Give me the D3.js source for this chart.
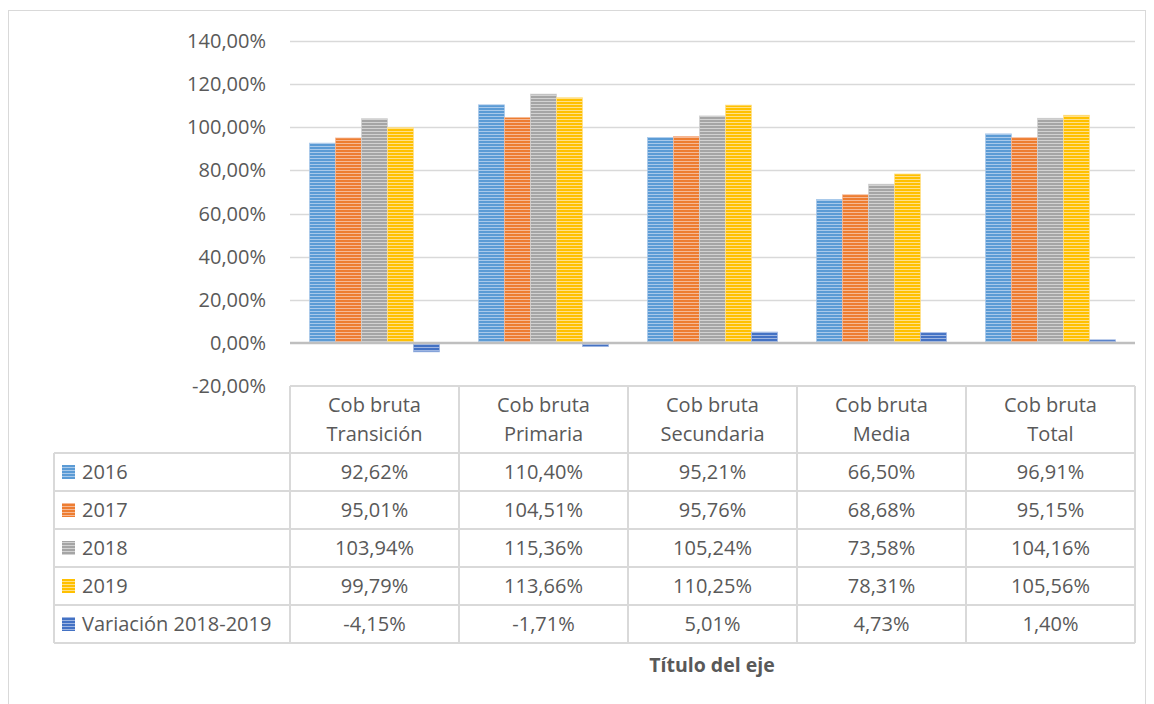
<!DOCTYPE html>
<html><head><meta charset="utf-8">
<script src="https://cdn.jsdelivr.net/npm/d3@7"></script>
<style>body{margin:0;background:#fff}svg{display:block}</style>
</head><body>
<svg id="c" width="1154" height="704"></svg>
<script>
const categories = ["Cob bruta Transición","Cob bruta Primaria","Cob bruta Secundaria","Cob bruta Media","Cob bruta Total"];
const series = ["2016","2017","2018","2019","Variación 2018-2019"];
const v2016 = [92.62,110.40,95.21,66.50,96.91];
const v2017 = [95.01,104.51,95.76,68.68,95.15];
const v2018 = [103.94,115.36,105.24,73.58,104.16];
const v2019 = [99.79,113.66,110.25,78.31,105.56];
const vVar = [-4.15,-1.71,5.01,4.73,1.40];
const yTicks = [-20,0,20,40,60,80,100,120,140];
const colors = ["#5B9BD5","#ED7D31","#A5A5A5","#FFC000","#4472C4"];
const lights = ["#a9c9ea","#f6b995","#d2d2d2","#ffe08a","#9fb6e2"];
const values = [v2016,v2017,v2018,v2019,vVar];

const fmt = d => d3.format(".2f")(d).replace(".",",").replace("\u2212","-")+"%";

const svg = d3.select("#c");
const font = "'Open Sans', sans-serif";
const fs = 20, tc = "#595959", lc = "#d9d9d9";

svg.append("rect").attr("x",8.5).attr("y",10.5).attr("width",1137).attr("height",700)
  .attr("fill","none").attr("stroke",lc);

const defs = svg.append("defs");
colors.forEach((c,i)=>{
  const p = defs.append("pattern").attr("id","p"+i).attr("patternUnits","userSpaceOnUse")
    .attr("width",6).attr("height",3);
  p.append("rect").attr("width",6).attr("height",3).attr("fill",lights[i]);
  p.append("rect").attr("width",6).attr("height",2).attr("fill",c);
});

const x0 = d3.scaleBand().domain(categories).range([290,1135]).padding(0);
const x1 = d3.scaleBand().domain(series).range([0,x0.bandwidth()]).paddingInner(0).paddingOuter(0.75);
const y = d3.scaleLinear().domain([-20,140]).range([386,41]);

svg.append("g").selectAll("line").data(yTicks.filter(t=>t!==0 && t!==-20)).join("line")
  .attr("x1",290).attr("x2",1135).attr("y1",d=>Math.round(y(d))+0.5).attr("y2",d=>Math.round(y(d))+0.5)
  .attr("stroke",lc).attr("stroke-width",1.5);

svg.append("g").selectAll("text").data(yTicks).join("text")
  .attr("x",266).attr("y",d=>y(d)).attr("dy","0.35em").attr("text-anchor","end")
  .attr("font-family",font).attr("font-size",fs).attr("fill",tc)
  .text(fmt);

const g = svg.append("g");
categories.forEach((cat,ci)=>{
  series.forEach((s,si)=>{
    const v = values[si][ci];
    g.append("rect")
      .attr("x",x0(cat)+x1(s)).attr("width",x1.bandwidth())
      .attr("y",y(Math.max(0,v))).attr("height",Math.abs(y(v)-y(0)))
      .attr("fill","url(#p"+si+")").attr("stroke",lights[si]).attr("stroke-width",0.8);
  });
});

svg.append("line").attr("x1",290).attr("x2",1135).attr("y1",y(0)).attr("y2",y(0))
  .attr("stroke","#bfbfbf").attr("stroke-width",2.5);

const rowTop = 453, rowH = 38, tLeft = 54, tTop = 386;
const tl = svg.append("g").attr("stroke",lc).attr("stroke-width",2);
tl.append("line").attr("x1",290).attr("x2",1135).attr("y1",tTop).attr("y2",tTop);
for(let r=0;r<=series.length;r++){
  tl.append("line").attr("x1",tLeft).attr("x2",1135).attr("y1",rowTop+r*rowH).attr("y2",rowTop+r*rowH);
}
tl.append("line").attr("x1",tLeft).attr("x2",tLeft).attr("y1",rowTop).attr("y2",rowTop+series.length*rowH);
[...categories.map(c=>x0(c)),1135].forEach(xx=>{
  tl.append("line").attr("x1",xx).attr("x2",xx).attr("y1",tTop).attr("y2",rowTop+series.length*rowH);
});

categories.forEach(cat=>{
  const parts = ["Cob bruta", cat.replace("Cob bruta ","")];
  parts.forEach((p,i)=>{
    svg.append("text").attr("x",x0(cat)+x0.bandwidth()/2).attr("y",405+i*29).attr("dy","0.35em")
      .attr("text-anchor","middle").attr("font-family",font).attr("font-size",fs).attr("fill",tc).text(p);
  });
});

series.forEach((s,si)=>{
  const cy = rowTop + si*rowH + rowH/2;
  const p = svg.append("g");
  p.append("rect").attr("x",62).attr("y",cy-7).attr("width",13).attr("height",14).attr("fill","url(#p"+si+")");
  p.append("text").attr("x",82).attr("y",cy).attr("dy","0.35em").attr("font-family",font)
    .attr("font-size",fs).attr("fill",tc).text(s);
  categories.forEach((cat,ci)=>{
    p.append("text").attr("x",x0(cat)+x0.bandwidth()/2).attr("y",cy).attr("dy","0.35em")
      .attr("text-anchor","middle").attr("font-family",font).attr("font-size",fs).attr("fill",tc)
      .text(fmt(values[si][ci]));
  });
});

svg.append("text").attr("x",712).attr("y",665).attr("dy","0.35em").attr("text-anchor","middle")
  .attr("font-family",font).attr("font-size",19.5).attr("font-weight","bold").attr("fill",tc).text("Título del eje");
</script>
</body></html>
